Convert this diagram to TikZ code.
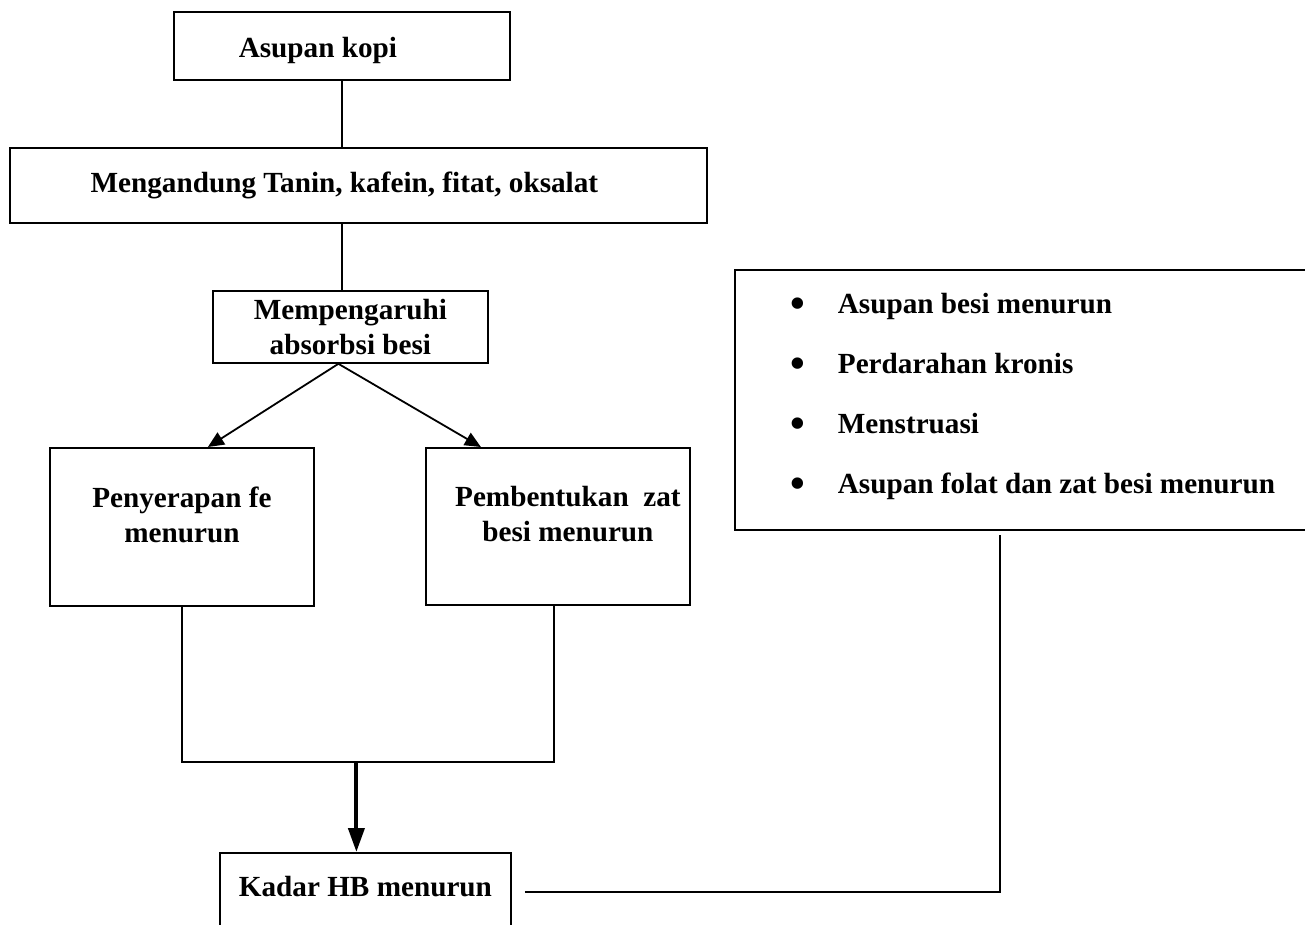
\documentclass[tikz,border=0pt]{standalone}
\usepackage{fontspec}
\setmainfont{Liberation Serif}
\usetikzlibrary{arrows.meta,positioning}

\newcommand{\butir}{\makebox[47pt][l]{\raisebox{-4pt}{\fontsize{42pt}{42pt}\selectfont\textbullet}}}

\begin{document}
\begin{tikzpicture}[
  x=1pt, y=-1pt,
  box/.style={rectangle, draw, line width=1.8pt, anchor=north west, align=center, inner sep=0pt,
    font=\bfseries\fontsize{29.2pt}{35pt}\selectfont},
  link/.style={line width=1.8pt},
  >={Triangle[length=16pt,width=14pt]}
]
\useasboundingbox (0,0) rectangle (1305,925);
\clip (0,0) rectangle (1305,925);

\node[box, minimum width=336pt, minimum height=68pt, text height=29pt] (kopi) at (173,11) {Asupan kopi\hspace*{48pt}};
\node[box, minimum width=697pt, minimum height=75pt] (kandung) at (9,147) {Mengandung Tanin, kafein, fitat, oksalat\hspace*{28pt}};
\node[box, minimum width=275pt, minimum height=72pt] (pengaruh) at (212,290) {Mempengaruhi\\absorbsi besi};
\node[box, minimum width=264pt, minimum height=158pt, text depth=24pt] (serap) at (49,447) {Penyerapan fe\\menurun};
\node[box, minimum width=264pt, minimum height=157pt, text depth=25pt] (bentuk) at (425,447) {\hspace*{20pt}Pembentukan\ \ zat\\\hspace*{20pt}besi menurun};
\node[box, minimum width=291pt, minimum height=78pt, text depth=12pt] (kadar) at (219,852) {Kadar HB menurun};
\node[box, align=left, inner xsep=56pt, minimum height=260pt, text depth=14pt,
  font=\bfseries\fontsize{29.2pt}{60pt}\selectfont] (sebab) at (734,269)
  {\butir Asupan besi menurun\\\butir Perdarahan kronis\\\butir Menstruasi\\\butir Asupan folat dan zat besi menurun};

\coordinate (gabung) at (0,762);
\coordinate (belok) at (1000,0);

\draw[link] (kopi.south) -- (kopi.south |- kandung.north);
\draw[link] (kopi.south |- kandung.south) -- (kopi.south |- pengaruh.north);
\draw[link,->] ([xshift=-12pt]pengaruh.south) -- ([xshift=26pt]serap.north);
\draw[link,->] ([xshift=-12pt]pengaruh.south) -- ([xshift=-77pt]bentuk.north);
\draw[link] (serap.south) -- (serap.south |- gabung) -- ([xshift=-4pt]bentuk.south |- gabung) -- ([xshift=-4pt]bentuk.south);
\draw[line width=4pt, -{Triangle[length=24pt,width=16pt]}] ([xshift=-9pt]kadar.north |- gabung) -- ([xshift=-9pt]kadar.north);
\draw[link] ([xshift=13pt]kadar.east) -| ([yshift=-4pt]belok |- sebab.south);
\end{tikzpicture}
\end{document}
